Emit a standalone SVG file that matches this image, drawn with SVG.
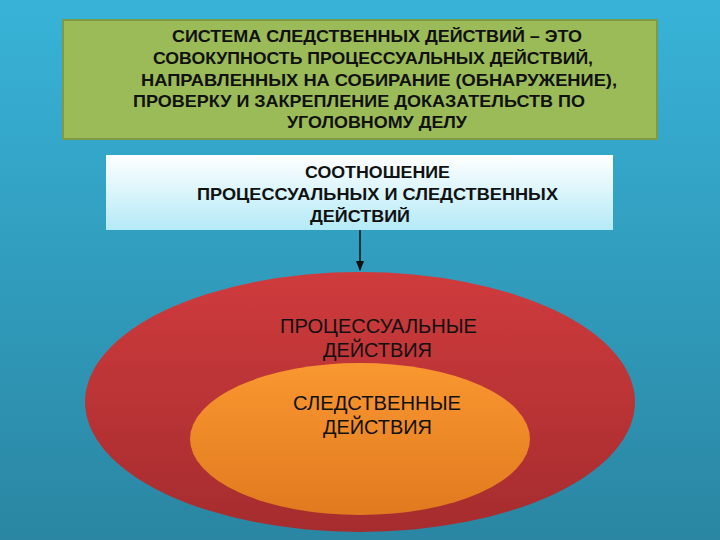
<svg xmlns="http://www.w3.org/2000/svg" width="720" height="540" viewBox="0 0 720 540">
<defs>
<linearGradient id="bg" x1="0" y1="0" x2="0" y2="1"><stop offset="0" stop-color="#38b3d8"/><stop offset="1" stop-color="#2a86a2"/></linearGradient>
<linearGradient id="wb" x1="0" y1="0" x2="0" y2="1"><stop offset="0" stop-color="#ffffff"/><stop offset="1" stop-color="#b4eaf7"/></linearGradient>
<linearGradient id="red" x1="0" y1="0" x2="0" y2="1"><stop offset="0" stop-color="#cf3b3d"/><stop offset="1" stop-color="#a52c2e"/></linearGradient>
<linearGradient id="org" x1="0" y1="0" x2="0" y2="1"><stop offset="0" stop-color="#f99730"/><stop offset="1" stop-color="#e17a1f"/></linearGradient>
<marker id="ah" viewBox="0 0 10 10" refX="9" refY="5" markerWidth="7" markerHeight="7" orient="auto"><path d="M0,1 L10,5 L0,9 z" fill="#111"/></marker>
<style>
.b{font-family:"Liberation Sans",Arial,sans-serif;font-weight:bold;font-size:16.5px;fill:#111;}
.w{font-size:17px;}
.n{font-family:"Liberation Sans",Arial,sans-serif;font-size:20px;fill:#111;}
</style>
</defs>
<rect width="720" height="540" fill="url(#bg)"/>
<g id="definition">
<rect x="63" y="20" width="594" height="119" fill="#9bbb59" stroke="#7f9a47" stroke-width="2"/>
<text class="b" x="172" y="42" textLength="410" lengthAdjust="spacingAndGlyphs">СИСТЕМА СЛЕДСТВЕННЫХ ДЕЙСТВИЙ – ЭТО</text>
<text class="b" x="153" y="64" textLength="440" lengthAdjust="spacingAndGlyphs">СОВОКУПНОСТЬ ПРОЦЕССУАЛЬНЫХ ДЕЙСТВИЙ,</text>
<text class="b" x="141" y="86" textLength="476" lengthAdjust="spacingAndGlyphs">НАПРАВЛЕННЫХ НА СОБИРАНИЕ (ОБНАРУЖЕНИЕ),</text>
<text class="b" x="133" y="107" textLength="452" lengthAdjust="spacingAndGlyphs">ПРОВЕРКУ И ЗАКРЕПЛЕНИЕ ДОКАЗАТЕЛЬСТВ ПО</text>
<text class="b" x="287" y="128" textLength="180" lengthAdjust="spacingAndGlyphs">УГОЛОВНОМУ ДЕЛУ</text>
</g>
<g id="relation">
<rect x="106" y="155" width="507" height="75" fill="url(#wb)"/>
<text class="b w" x="305" y="178" textLength="145" lengthAdjust="spacingAndGlyphs">СООТНОШЕНИЕ</text>
<text class="b w" x="197" y="200" textLength="361" lengthAdjust="spacingAndGlyphs">ПРОЦЕССУАЛЬНЫХ И СЛЕДСТВЕННЫХ</text>
<text class="b w" x="310" y="222" textLength="100" lengthAdjust="spacingAndGlyphs">ДЕЙСТВИЙ</text>
</g>
<g id="connectors">
<line x1="360" y1="230" x2="360" y2="270" stroke="#111" stroke-width="1.5" marker-end="url(#ah)"/>
</g>
<g id="procedural">
<ellipse cx="360" cy="402" rx="275" ry="130" fill="url(#red)"/>
<text class="n" x="280" y="333" textLength="197" lengthAdjust="spacingAndGlyphs">ПРОЦЕССУАЛЬНЫЕ</text>
<text class="n" x="323" y="357" textLength="109" lengthAdjust="spacingAndGlyphs">ДЕЙСТВИЯ</text>
</g>
<g id="investigative">
<ellipse cx="360" cy="439" rx="170" ry="76" fill="url(#org)"/>
<text class="n" x="293" y="410" textLength="168" lengthAdjust="spacingAndGlyphs">СЛЕДСТВЕННЫЕ</text>
<text class="n" x="323" y="434" textLength="109" lengthAdjust="spacingAndGlyphs">ДЕЙСТВИЯ</text>
</g>
</svg>
